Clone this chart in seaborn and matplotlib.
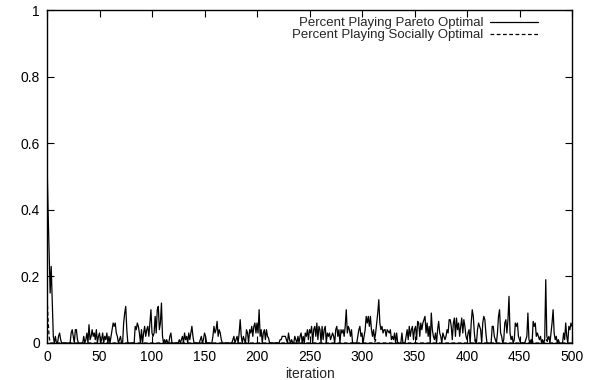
import numpy as np
import pandas as pd
import matplotlib
matplotlib.use("Agg")
import matplotlib.pyplot as plt
import seaborn as sns

# Fraction of agents playing the Pareto optimal action at each iteration (0..500)
pareto = [
    0.55, 0.40, 0.28, 0.15, 0.23, 0.12, 0.02, 0.00, 0.02, 0.00, 0.00, 0.02, 0.03, 0.01, 0.00, 0.00, 0.00, 0.00, 0.00, 0.00,
    0.00, 0.00, 0.00, 0.03, 0.04, 0.02, 0.00, 0.04, 0.04, 0.01, 0.00, 0.00, 0.00, 0.00, 0.00, 0.02, 0.00, 0.01, 0.03, 0.00,
    0.055, 0.01, 0.02, 0.04, 0.02, 0.03, 0.01, 0.04, 0.00, 0.02, 0.03, 0.00, 0.01, 0.03, 0.00, 0.02, 0.01, 0.03, 0.00, 0.02,
    0.00, 0.02, 0.04, 0.06, 0.05, 0.06, 0.03, 0.02, 0.00, 0.01, 0.02, 0.00, 0.00, 0.06, 0.09, 0.11, 0.04, 0.00, 0.00, 0.00,
    0.00, 0.00, 0.00, 0.00, 0.05, 0.04, 0.06, 0.05, 0.03, 0.00, 0.04, 0.00, 0.03, 0.05, 0.02, 0.04, 0.05, 0.02, 0.06, 0.10,
    0.03, 0.02, 0.03, 0.08, 0.03, 0.10, 0.11, 0.04, 0.06, 0.12, 0.02, 0.00, 0.01, 0.00, 0.01, 0.00, 0.00, 0.02, 0.03, 0.00,
    0.00, 0.00, 0.00, 0.00, 0.00, 0.00, 0.01, 0.00, 0.01, 0.02, 0.00, 0.03, 0.01, 0.02, 0.00, 0.03, 0.01, 0.03, 0.05, 0.02,
    0.00, 0.00, 0.00, 0.00, 0.00, 0.00, 0.01, 0.02, 0.00, 0.01, 0.03, 0.02, 0.00, 0.00, 0.00, 0.00, 0.00, 0.00, 0.02, 0.05,
    0.03, 0.04, 0.065, 0.02, 0.04, 0.03, 0.01, 0.00, 0.00, 0.00, 0.00, 0.00, 0.00, 0.00, 0.00, 0.00, 0.00, 0.01, 0.02, 0.00,
    0.01, 0.02, 0.00, 0.03, 0.07, 0.02, 0.00, 0.02, 0.01, 0.00, 0.04, 0.03, 0.00, 0.04, 0.03, 0.05, 0.02, 0.05, 0.06, 0.03,
    0.06, 0.03, 0.10, 0.02, 0.04, 0.00, 0.03, 0.04, 0.01, 0.04, 0.02, 0.015, 0.00, 0.00, 0.00, 0.00, 0.00, 0.00, 0.00, 0.00,
    0.00, 0.00, 0.01, 0.01, 0.02, 0.02, 0.02, 0.02, 0.01, 0.00, 0.03, 0.01, 0.00, 0.01, 0.00, 0.00, 0.02, 0.01, 0.00, 0.02,
    0.00, 0.02, 0.03, 0.00, 0.02, 0.00, 0.03, 0.02, 0.04, 0.01, 0.04, 0.03, 0.05, 0.00, 0.04, 0.05, 0.02, 0.06, 0.01, 0.05,
    0.04, 0.00, 0.05, 0.01, 0.04, 0.05, 0.00, 0.03, 0.02, 0.03, 0.01, 0.02, 0.03, 0.02, 0.00, 0.04, 0.05, 0.02, 0.04, 0.00,
    0.04, 0.03, 0.04, 0.02, 0.05, 0.10, 0.03, 0.05, 0.04, 0.02, 0.04, 0.00, 0.00, 0.00, 0.00, 0.00, 0.02, 0.04, 0.05, 0.02,
    0.03, 0.00, 0.02, 0.04, 0.08, 0.06, 0.08, 0.05, 0.08, 0.04, 0.02, 0.04, 0.01, 0.03, 0.06, 0.09, 0.13, 0.06, 0.04, 0.05,
    0.03, 0.04, 0.04, 0.02, 0.04, 0.035, 0.03, 0.04, 0.01, 0.02, 0.01, 0.03, 0.00, 0.03, 0.00, 0.00, 0.00, 0.00, 0.03, 0.00,
    0.00, 0.00, 0.02, 0.04, 0.01, 0.05, 0.02, 0.04, 0.05, 0.01, 0.04, 0.05, 0.01, 0.065, 0.06, 0.02, 0.06, 0.04, 0.06, 0.07,
    0.08, 0.03, 0.06, 0.02, 0.05, 0.00, 0.09, 0.04, 0.02, 0.01, 0.03, 0.00, 0.04, 0.065, 0.03, 0.02, 0.00, 0.03, 0.02, 0.01,
    0.02, 0.04, 0.03, 0.07, 0.07, 0.05, 0.01, 0.06, 0.075, 0.02, 0.075, 0.04, 0.06, 0.02, 0.05, 0.075, 0.03, 0.07, 0.05, 0.02,
    0.01, 0.03, 0.04, 0.00, 0.06, 0.10, 0.08, 0.03, 0.00, 0.00, 0.04, 0.06, 0.05, 0.04, 0.00, 0.06, 0.08, 0.07, 0.03, 0.00,
    0.00, 0.00, 0.00, 0.00, 0.05, 0.05, 0.02, 0.01, 0.00, 0.03, 0.08, 0.10, 0.03, 0.02, 0.00, 0.01, 0.06, 0.07, 0.03, 0.07,
    0.14, 0.03, 0.01, 0.02, 0.00, 0.01, 0.06, 0.05, 0.06, 0.02, 0.01, 0.00, 0.00, 0.00, 0.00, 0.00, 0.01, 0.02, 0.09, 0.01,
    0.00, 0.01, 0.00, 0.065, 0.05, 0.06, 0.02, 0.03, 0.02, 0.01, 0.02, 0.00, 0.01, 0.00, 0.01, 0.19, 0.02, 0.01, 0.02, 0.00,
    0.03, 0.06, 0.10, 0.03, 0.01, 0.02, 0.00, 0.01, 0.00, 0.00, 0.00, 0.00, 0.03, 0.01, 0.06, 0.02, 0.00, 0.05, 0.04, 0.06,
    0.05,
]

# Fraction playing the socially optimal action: a short start-up transient,
# then zero apart from a few isolated blips
social_head = [0.15, 0.07, 0.02]
social_blips = {313: 0.01, 408: 0.01, 462: 0.01, 476: 0.01}

iterations = np.arange(len(pareto))
social = np.zeros(len(pareto))
social[:len(social_head)] = social_head
for it, v in social_blips.items():
    social[it] = v

labels = ["Percent Playing Pareto Optimal", "Percent Playing Socially Optimal"]
df = pd.DataFrame({
    "iteration": np.concatenate([iterations, iterations]),
    "value": np.concatenate([pareto, social]),
    "series": [labels[0]] * len(pareto) + [labels[1]] * len(pareto),
})

sns.set_style("ticks")
plt.rcParams["font.family"] = ["Liberation Sans", "DejaVu Sans"]

fig = plt.figure(figsize=(6.03, 3.80), dpi=100)
ax = fig.add_axes([47 / 603, 1 - 343 / 380, (572 - 47) / 603, (343 - 10) / 380])

sns.lineplot(
    data=df, x="iteration", y="value", hue="series", style="series",
    palette=["black", "black"], dashes=[(None, None), (3, 2)],
    linewidth=0.9, ax=ax, legend=True,
)

ax.set_xlim(0, 500)
ax.set_ylim(0, 1)
ax.set_xticks(range(0, 501, 50))
ax.set_yticks([0, 0.2, 0.4, 0.6, 0.8, 1.0])
ax.set_yticklabels(["0", "0.2", "0.4", "0.6", "0.8", "1"])
ax.set_xlabel("iteration", fontsize=10, labelpad=2)
ax.set_ylabel("")
ax.tick_params(direction="in", length=5, width=0.8, labelsize=10,
               top=True, right=True, colors="black", pad=5)
for s in ax.spines.values():
    s.set_linewidth(1.0)
    s.set_color("black")
    s.set_visible(True)

leg = ax.legend(loc="upper right", bbox_to_anchor=(0.945, 0.995), frameon=False,
                markerfirst=False, fontsize=9.5, handlelength=3.6,
                labelspacing=0.0, handletextpad=0.5, borderaxespad=0.0)
for t in leg.get_texts():
    t.set_ha("right")
leg._legend_box.align = "right"

fig.savefig("out.png", dpi=100)
